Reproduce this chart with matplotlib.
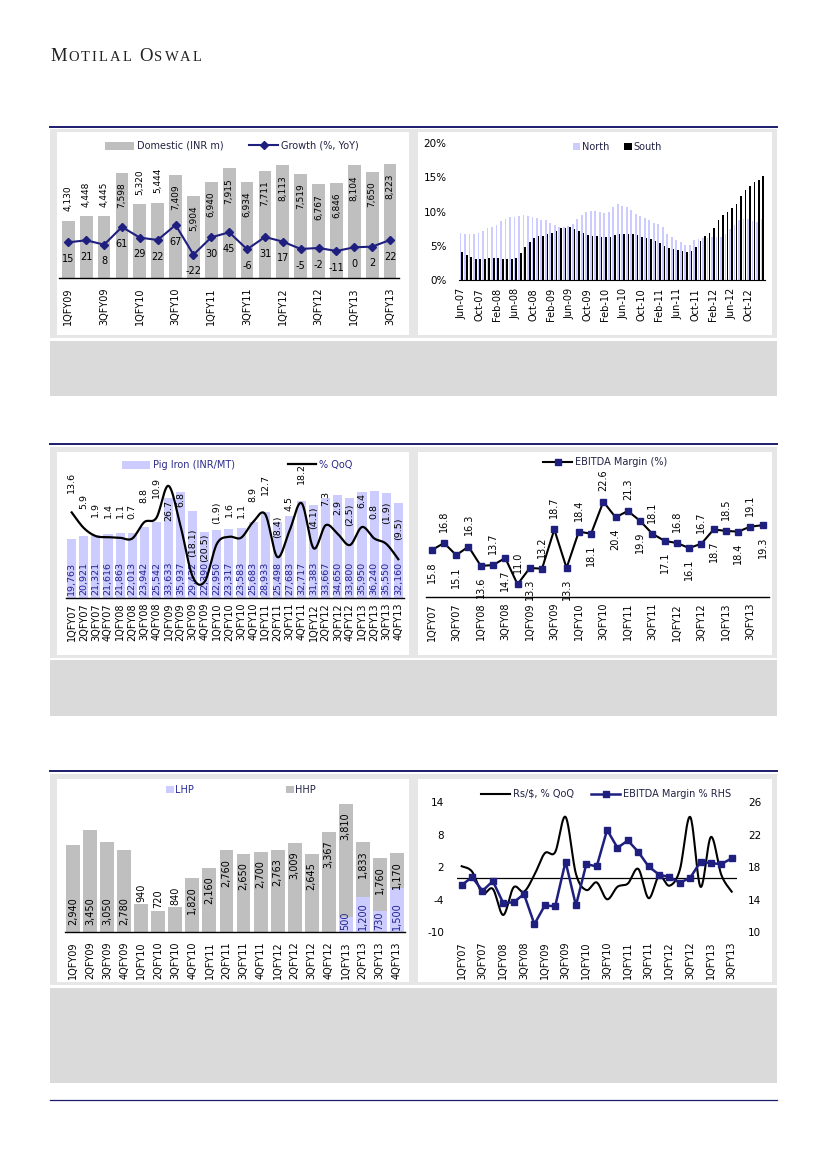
import numpy as np
import pandas as pd
import matplotlib
matplotlib.use('Agg')
import matplotlib.pyplot as plt
from matplotlib.patches import Rectangle, Patch
from matplotlib.lines import Line2D

plt.rcParams['font.family'] = ['DejaVu Sans']

# ---------------- DATA ----------------
dom_quarters = ['1QFY09', '2QFY09', '3QFY09', '4QFY09', '1QFY10', '2QFY10', '3QFY10', '4QFY10',
                '1QFY11', '2QFY11', '3QFY11', '4QFY11', '1QFY12', '2QFY12', '3QFY12', '4QFY12',
                '1QFY13', '2QFY13', '3QFY13']
domestic = [4130, 4448, 4445, 7598, 5320, 5444, 7409, 5904, 6940, 7915, 6934, 7711, 8113, 7519,
            6767, 6846, 8104, 7650, 8223]
growth = [15, 21, 8, 61, 29, 22, 67, -22, 30, 45, -6, 31, 17, -5, -2, -11, 0, 2, 22]

months = list(pd.date_range('2007-06-01', '2013-01-01', freq='MS').strftime('%b-%y'))
north = [6.9, 6.75, 6.75, 6.75, 6.9, 7.15, 7.6, 7.75, 8.05, 8.6, 8.9, 9.2, 9.2, 9.35, 9.5, 9.4,
         9.25, 9.1, 8.85, 8.8, 8.4, 8.1, 7.8, 7.75, 7.9, 8.2, 8.9, 9.5, 9.9, 10.1, 10.1, 9.95,
         9.85, 9.95, 10.7, 11.1, 10.8, 10.7, 10.3, 9.7, 9.3, 9.1, 8.8, 8.3, 8.2, 7.7, 6.8, 6.3,
         5.9, 5.6, 5.1, 5.1, 5.9, 6.0, 6.1, 6.1, 6.3, 6.3, 6.3, 6.8, 7.4, 8.0, 8.8, 8.9, 8.9,
         8.7, 8.5, 8.9]
south = [4.05, 3.65, 3.3, 3.1, 3.1, 3.1, 3.2, 3.2, 3.2, 3.1, 3.1, 3.1, 3.2, 3.9, 4.8, 5.5, 6.1,
         6.4, 6.4, 6.7, 6.9, 7.2, 7.6, 7.6, 7.75, 7.5, 7.2, 6.9, 6.6, 6.45, 6.45, 6.3, 6.3, 6.3,
         6.6, 6.7, 6.7, 6.7, 6.7, 6.6, 6.3, 6.1, 6.0, 5.7, 5.4, 5.0, 4.7, 4.5, 4.4, 4.3, 4.1,
         4.2, 4.8, 5.7, 6.4, 6.9, 7.6, 8.8, 9.5, 10.0, 10.5, 11.1, 12.3, 13.2, 13.8, 14.3, 14.6,
         15.2]

q_fy07_fy13 = ['1QFY07', '2QFY07', '3QFY07', '4QFY07', '1QFY08', '2QFY08', '3QFY08', '4QFY08',
               '1QFY09', '2QFY09', '3QFY09', '4QFY09', '1QFY10', '2QFY10', '3QFY10', '4QFY10',
               '1QFY11', '2QFY11', '3QFY11', '4QFY11', '1QFY12', '2QFY12', '3QFY12', '4QFY12',
               '1QFY13', '2QFY13', '3QFY13', '4QFY13']
pig_iron = [19763, 20921, 21321, 21616, 21863, 22013, 23942, 25542, 33633, 35937, 29432, 22390,
            22950, 23317, 23583, 25683, 28933, 25498, 27683, 32717, 31383, 33667, 34650, 33800,
            35950, 36240, 35550, 32160]
pig_qoq = [13.6, 5.9, 1.9, 1.4, 1.1, 0.7, 8.8, 10.9, 26.7, 6.8, -18.1, -20.5, -1.9, 1.6, 1.1, 8.9,
           12.7, -8.4, 4.5, 18.2, -4.1, 7.3, 2.9, -2.5, 6.4, 0.8, -1.9, -9.5]

ebitda = [15.8, 16.8, 15.1, 16.3, 13.6, 13.7, 14.7, 11.0, 13.3, 13.2, 18.7, 13.3, 18.4, 18.1,
          22.6, 20.4, 21.3, 19.9, 18.1, 17.1, 16.8, 16.1, 16.7, 18.7, 18.5, 18.4, 19.1, 19.3]

hp_quarters = ['1QFY09', '2QFY09', '3QFY09', '4QFY09', '1QFY10', '2QFY10', '3QFY10', '4QFY10',
               '1QFY11', '2QFY11', '3QFY11', '4QFY11', '1QFY12', '2QFY12', '3QFY12', '4QFY12',
               '1QFY13', '2QFY13', '3QFY13', '4QFY13']
lhp = [0, 0, 0, 0, 0, 0, 0, 0, 0, 0, 0, 0, 0, 0, 0, 0, 500, 1200, 730, 1500]
hhp = [2940, 3450, 3050, 2780, 940, 720, 840, 1820, 2160, 2760, 2650, 2700, 2763, 3009, 2645,
       3367, 3810, 1833, 1760, 1170]

fx_quarters = q_fy07_fy13[:27]
rs_qoq = [2.2, 1.2, -2.8, -2.0, -6.8, -1.7, -2.5, 0.6, 4.6, 4.8, 11.3, 0.8, -2.2, -0.8, -3.9,
          -1.6, -1.0, 1.7, -3.7, 0.4, -1.4, 1.5, 11.3, -1.6, 7.6, 0.6, -2.5]
ebitda_rhs = ebitda[:27]

# ---------------- STYLE ----------------
W, H = 826, 1169
NAVY = '#1c1c6e'
LINE_NAVY = '#1f1f80'
LAV = '#ccccff'
GRAY = '#bfbfbf'
FRAME = '#e6e6e6'
NOTE = '#dadada'
FS = 7
VFS = 6.5

fig = plt.figure(figsize=(W / 100, H / 100), dpi=100)
fig.patch.set_facecolor('white')


def fx(x):
    return x / W


def fy(y):
    return 1 - y / H


def add_ax(x0, y0, x1, y1):
    ax = fig.add_axes([x0 / W, 1 - y1 / H, (x1 - x0) / W, (y1 - y0) / H])
    ax.patch.set_alpha(0)
    return ax


def rect(x0, y0, x1, y1, color):
    fig.add_artist(Rectangle((x0 / W, 1 - y1 / H), (x1 - x0) / W, (y1 - y0) / H,
                             transform=fig.transFigure, facecolor=color, edgecolor='none',
                             zorder=-10))


def hline(y, x0, x1, lw, color):
    fig.add_artist(Line2D([x0 / W, x1 / W], [1 - y / H] * 2, transform=fig.transFigure,
                          color=color, lw=lw, zorder=-5))


def smooth(x, y, n=24):
    P = np.column_stack([np.asarray(x, float), np.asarray(y, float)])
    Pe = np.vstack([P[0], P, P[-1]])
    out = []
    for i in range(len(P) - 1):
        p0, p1, p2, p3 = Pe[i], Pe[i + 1], Pe[i + 2], Pe[i + 3]
        c1 = p1 + (p2 - p0) / 6.0
        c2 = p2 - (p3 - p1) / 6.0
        t = np.linspace(0, 1, n, endpoint=(i == len(P) - 2))[:, None]
        seg = (1 - t) ** 3 * p1 + 3 * (1 - t) ** 2 * t * c1 + 3 * (1 - t) * t ** 2 * c2 + t ** 3 * p2
        out.append(seg)
    out = np.vstack(out)
    return out[:, 0], out[:, 1]


def clean(ax, keep_bottom=True):
    for s in ['top', 'right', 'left']:
        ax.spines[s].set_visible(False)
    ax.spines['bottom'].set_visible(keep_bottom)
    ax.spines['bottom'].set_color('black')
    ax.spines['bottom'].set_linewidth(1.0)
    ax.set_yticks([])
    ax.tick_params(axis='x', length=0)


# ---------------- PAGE ----------------
# header (small caps)
r = fig.canvas.get_renderer()
BIG, SMALL = 13.5, 10.5
pieces = [('M', BIG), ('O', SMALL), ('T', SMALL), ('I', SMALL), ('L', SMALL), ('A', SMALL),
          ('L', SMALL), (None, 0), ('O', BIG), ('S', SMALL), ('W', SMALL), ('A', SMALL),
          ('L', SMALL)]
texts = []
widths = []
for ch, sz in pieces:
    if ch is None:
        texts.append(None)
        widths.append(4.0)
        continue
    t = fig.text(0, fy(61), ch, fontsize=sz, family='Liberation Serif', va='baseline',
                 ha='left', color='#222222')
    texts.append(t)
    widths.append(t.get_window_extent(r).width)
track = (151.7 - sum(widths)) / (len(pieces) - 1)
xpos = 50.0
for t, w in zip(texts, widths):
    if t is not None:
        t.set_x(fx(xpos))
    xpos += w + track

for (ly, fr0, fr1, wy0, wy1, nb0, nb1) in [(127, 129, 338, 132, 335, 341, 396),
                                          (444.5, 447, 658, 452, 655, 660, 716),
                                          (771, 773.5, 985, 779, 982, 988, 1083)]:
    hline(ly, 50, 777, 1.4, NAVY)
    rect(50, fr0, 777, fr1, FRAME)
    rect(57, wy0, 409, wy1, 'white')
    rect(418, wy0, 772, wy1, 'white')
    rect(50, nb0, 777, nb1, NOTE)
hline(1100, 50, 777, 0.9, NAVY)

# ---------------- CHART 1 ----------------
ax1 = add_ax(59.4, 153, 399, 278.3)
x1 = np.arange(len(domestic))
ax1.bar(x1, domestic, width=0.71, color=GRAY, zorder=1)
ax1.set_xlim(-0.5, len(domestic) - 0.5)
ax1.set_ylim(0, 9000)
clean(ax1)
ax1.set_xticks(x1[::2])
ax1.set_xticklabels(dom_quarters[::2], rotation=90, fontsize=FS)
ax1.tick_params(axis='x', pad=6.7)
for xi, v in zip(x1, domestic):
    if v > 5800:
        ax1.annotate(f'{v:,}', (xi, v), xytext=(0, -7), textcoords='offset points', rotation=90,
                     ha='center', va='top', fontsize=VFS, zorder=3)
    else:
        ax1.annotate(f'{v:,}', (xi, v), xytext=(0, 7), textcoords='offset points', rotation=90,
                     ha='center', va='bottom', fontsize=VFS, zorder=3)
ax1b = ax1.twinx()
ax1b.set_ylim(-93, 283)
ax1b.axis('off')
ax1b.plot(x1, growth, color=LINE_NAVY, lw=1.5, marker='D', ms=4, zorder=4)
for xi, v in zip(x1, growth):
    ax1b.annotate(f'{v}', (xi, v), xytext=(0, -12), textcoords='offset points', ha='center',
                  va='center', fontsize=VFS + 0.5)
fig.legend([Patch(facecolor=GRAY), Line2D([], [], color=LINE_NAVY, marker='D', ms=4, lw=1.5)],
           ['Domestic (INR m)', 'Growth (%, YoY)'], loc='center',
           bbox_to_anchor=(fx(232), fy(146)), ncol=2, frameon=False, fontsize=FS,
           handlelength=3.0, handleheight=0.9, handletextpad=0.3, columnspacing=2.6,
           labelcolor='#222244')

# ---------------- CHART 2 ----------------
ax2 = add_ax(459.1, 143.3, 764.7, 280)
x2 = np.arange(len(months))
ax2.bar(x2 - 0.2, np.array(north) / 100, width=0.38, color=LAV, zorder=1)
ax2.bar(x2 + 0.2, np.array(south) / 100, width=0.38, color='black', zorder=2)
ax2.set_xlim(-0.5, len(months) - 0.5)
ax2.set_ylim(0, 0.20)
for s in ['top', 'right', 'left']:
    ax2.spines[s].set_visible(False)
ax2.spines['bottom'].set_color('black')
ax2.set_yticks([0, 0.05, 0.10, 0.15, 0.20])
ax2.set_yticklabels(['0%', '5%', '10%', '15%', '20%'], fontsize=FS + 0.5)
ax2.tick_params(axis='y', length=0, pad=9)
ax2.set_xticks(x2[::4])
ax2.set_xticklabels(months[::4], rotation=90, fontsize=FS)
ax2.tick_params(axis='x', length=0, pad=5.8)
fig.legend([Patch(facecolor=LAV), Patch(facecolor='black')], ['North', 'South'], loc='center',
           bbox_to_anchor=(fx(617), fy(147)), ncol=2, frameon=False, fontsize=FS,
           handlelength=0.8, handleheight=0.8, handletextpad=0.15, columnspacing=1.5,
           labelcolor='#222244')

# ---------------- CHART 3 ----------------
ax3 = add_ax(65.65, 479.7, 404.35, 597.7)
x3 = np.arange(len(pig_iron))
ax3.bar(x3, pig_iron, width=0.75, color=LAV, zorder=1)
ax3.set_xlim(-0.5, len(pig_iron) - 0.5)
ax3.set_ylim(0, 40000)
clean(ax3)
ax3.set_xticks(x3)
ax3.set_xticklabels(q_fy07_fy13, rotation=90, fontsize=FS)
ax3.tick_params(axis='x', pad=3.8)
for xi, v in zip(x3, pig_iron):
    ax3.annotate(f'{v:,}', (xi, 0), xytext=(0, 2), textcoords='offset points', rotation=90,
                 ha='center', va='bottom', fontsize=VFS + 0.3, color='#23238f', zorder=3)
ax3b = ax3.twinx()
ax3b.set_ylim(-28.5, 29.75)
ax3b.axis('off')
sx, sy = smooth(x3, pig_qoq)
ax3b.plot(sx, sy, color='black', lw=1.6, zorder=4)
for xi, v in zip(x3, pig_qoq):
    lab = f'{v:.1f}' if v >= 0 else f'({abs(v):.1f})'
    if v > 20:
        ax3b.annotate(lab, (xi, v), xytext=(0, -10), textcoords='offset points', rotation=90,
                      ha='center', va='top', fontsize=VFS + 0.3)
    else:
        ax3b.annotate(lab, (xi, v), xytext=(0, 14), textcoords='offset points', rotation=90,
                      ha='center', va='bottom', fontsize=VFS + 0.3)
fig.legend([Patch(facecolor=LAV), Line2D([], [], color='black', lw=1.6)],
           ['Pig Iron (INR/MT)', '% QoQ'], loc='center', bbox_to_anchor=(fx(237), fy(465)),
           ncol=2, frameon=False, fontsize=FS, handlelength=2.9, handleheight=0.9,
           handletextpad=0.25, columnspacing=5.5, labelcolor='#2a2a8a')

# ---------------- CHART 4 ----------------
ax4 = add_ax(425.6, 480, 768.8, 596.7)
x4 = np.arange(len(ebitda))
ax4.plot(x4, ebitda, color='black', lw=1.5, marker='s', ms=4.3, mfc=LINE_NAVY,
         mec=LINE_NAVY, zorder=3)
ax4.set_xlim(-0.5, len(ebitda) - 0.5)
ax4.set_ylim(9.27, 25.64)
clean(ax4)
ax4.set_xticks(x4[::2])
ax4.set_xticklabels(q_fy07_fy13[::2], rotation=90, fontsize=FS)
ax4.tick_params(axis='x', pad=4.5)
for i, (xi, v) in enumerate(zip(x4, ebitda)):
    above = (i % 2 == 1) if i < 10 else (i % 2 == 0)
    if above:
        ax4.annotate(f'{v:.1f}', (xi, v), xytext=(0, 8), textcoords='offset points',
                     rotation=90, ha='center', va='bottom', fontsize=VFS + 0.5)
    else:
        ax4.annotate(f'{v:.1f}', (xi, v), xytext=(0, -8), textcoords='offset points',
                     rotation=90, ha='center', va='top', fontsize=VFS + 0.5)
fig.legend([Line2D([], [], color='black', lw=1.5, marker='s', ms=4.3, mfc=LINE_NAVY,
                   mec=LINE_NAVY)], ['EBITDA Margin (%)'], loc='center',
           bbox_to_anchor=(fx(605), fy(462)), frameon=False, fontsize=FS, handlelength=3.0,
           handletextpad=0.25, labelcolor='#222244')

# ---------------- CHART 5 ----------------
ax5 = add_ax(64.8, 798.6, 405.2, 932.3)
x5 = np.arange(len(hhp))
ax5.bar(x5, lhp, width=0.82, color=LAV, zorder=1)
ax5.bar(x5, hhp, width=0.82, bottom=lhp, color=GRAY, zorder=1)
ax5.set_xlim(-0.5, len(hhp) - 0.5)
ax5.set_ylim(0, 4500)
clean(ax5)
ax5.set_xticks(x5)
ax5.set_xticklabels(hp_quarters, rotation=90, fontsize=FS)
ax5.tick_params(axis='x', pad=6.8)
for i, (xi, lo, hi) in enumerate(zip(x5, lhp, hhp)):
    top = lo + hi
    if i < 4:
        ax5.annotate(f'{hi:,}', (xi, lo), xytext=(0, 5), textcoords='offset points',
                     rotation=90, ha='center', va='bottom', fontsize=VFS + 0.5, zorder=3)
    elif hi < 1000:
        ax5.annotate(f'{hi:,}', (xi, top), xytext=(0, 2), textcoords='offset points',
                     rotation=90, ha='center', va='bottom', fontsize=VFS + 0.5, zorder=3)
    else:
        ax5.annotate(f'{hi:,}', (xi, top), xytext=(0, -6), textcoords='offset points',
                     rotation=90, ha='center', va='top', fontsize=VFS + 0.5, zorder=3)
    if lo > 0:
        ax5.annotate(f'{lo:,}', (xi, 0), xytext=(0, 2), textcoords='offset points',
                     rotation=90, ha='center', va='bottom', fontsize=VFS + 0.5,
                     color='#23238f', zorder=3)
leg5 = fig.legend([Patch(facecolor=LAV), Patch(facecolor=GRAY)], ['LHP', 'HHP'], loc='center',
                  bbox_to_anchor=(fx(241), fy(790)), ncol=2, frameon=False, fontsize=FS,
                  handlelength=0.8, handleheight=0.8, handletextpad=0.1, columnspacing=9.5)
leg5.get_texts()[0].set_color('#2a2a9a')
leg5.get_texts()[1].set_color('#222244')

# ---------------- CHART 6 ----------------
ax6 = add_ax(456.5, 802.3, 736.9, 932.3)
x6 = np.arange(len(rs_qoq))
sx, sy = smooth(x6, rs_qoq)
ax6.plot(sx, sy, color='black', lw=1.5, zorder=3)
ax6.axhline(0, color='black', lw=0.9, zorder=2)
ax6.set_xlim(-0.5, len(rs_qoq) - 0.5)
ax6.set_ylim(-10, 14)
for s in ax6.spines.values():
    s.set_visible(False)
ax6.set_yticks([-10, -4, 2, 8, 14])
ax6.set_yticklabels(['-10', '-4', '2', '8', '14'], fontsize=FS + 0.5)
ax6.tick_params(axis='y', length=0, pad=9)
ax6.set_xticks(x6[::2])
ax6.set_xticklabels(fx_quarters[::2], rotation=90, fontsize=FS)
ax6.tick_params(axis='x', length=0, pad=6.8)
ax6b = ax6.twinx()
ax6b.plot(x6, ebitda_rhs, color=LINE_NAVY, lw=1.8, marker='s', ms=4.3, zorder=4)
ax6b.set_ylim(10, 26)
for s in ax6b.spines.values():
    s.set_visible(False)
ax6b.set_yticks([10, 14, 18, 22, 26])
ax6b.set_yticklabels(['10', '14', '18', '22', '26'], fontsize=FS + 0.5)
ax6b.tick_params(axis='y', length=0, pad=8)
fig.legend([Line2D([], [], color='black', lw=1.5),
            Line2D([], [], color=LINE_NAVY, lw=1.8, marker='s', ms=4.3)],
           ['Rs/$, % QoQ', 'EBITDA Margin % RHS'], loc='center',
           bbox_to_anchor=(fx(606), fy(794)), ncol=2, frameon=False, fontsize=FS,
           handlelength=3.0, handletextpad=0.25, columnspacing=1.8, labelcolor='#222244')

fig.savefig('out.png', dpi=100, facecolor='white')
